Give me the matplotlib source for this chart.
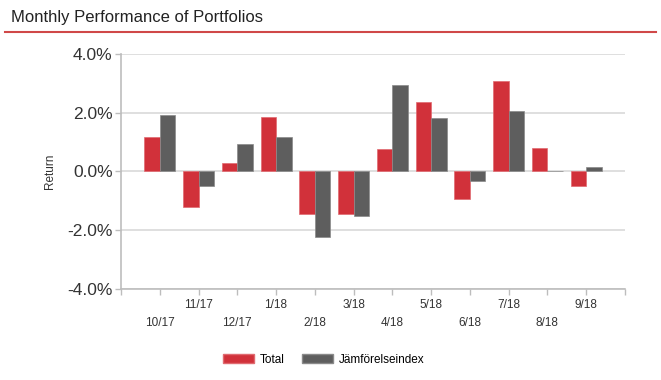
import numpy as np
import matplotlib
matplotlib.use("Agg")
import matplotlib.pyplot as plt
from matplotlib.lines import Line2D
from matplotlib.patches import Patch

plt.rcParams["font.family"] = ["Liberation Sans", "DejaVu Sans"]

# data (percent)
months = ["10/17", "11/17", "12/17", "1/18", "2/18", "3/18",
          "4/18", "5/18", "6/18", "7/18", "8/18", "9/18"]
total = [1.19, -1.20, 0.30, 1.85, -1.46, -1.46, 0.75, 2.37, -0.93, 3.09, 0.80, -0.49]
index = [1.94, -0.49, 0.93, 1.16, -2.24, -1.52, 2.96, 1.81, -0.34, 2.06, 0.01, 0.16]
yticks = [-4, -2, 0, 2, 4]

red = "#d1313a"
grey = "#5e5e5e"
axis_col = "#bdbdbd"

fig = plt.figure(figsize=(6.61, 3.8), dpi=100)
ax = fig.add_axes([0.183, 0.2395, 0.7625, 0.6184])

x = np.arange(len(months))
w = 0.4
ax.bar(x - w / 2, total, w, color=red, edgecolor="#e06a70", linewidth=0.5, zorder=3)
ax.bar(x + w / 2, index, w, color=grey, edgecolor="#8a8a8a", linewidth=0.5, zorder=3)

ax.set_xlim(-1, len(months))
ax.set_ylim(-4, 4)
ax.set_yticks(yticks)
ax.set_yticklabels([f"{v:.1f}%" for v in yticks], fontsize=12.5, color="#333333")
ax.yaxis.grid(True, color="#d9d9d9", linewidth=1.2, zorder=0)

ax.set_xticks(np.arange(-1, len(months) + 1))
ax.set_xticklabels([])
ax.tick_params(axis="x", length=4, color=axis_col, width=1)
ax.tick_params(axis="y", length=4, color=axis_col, width=1, pad=2)

for s in ["top", "right"]:
    ax.spines[s].set_visible(False)
for s in ["left", "bottom"]:
    ax.spines[s].set_color(axis_col)
    ax.spines[s].set_linewidth(1.2)

# alternating month labels
trans = ax.get_xaxis_transform()
for i, m in enumerate(months):
    yy = -0.145 if i % 2 == 0 else -0.068
    ax.text(i, yy, m, transform=trans, ha="center", va="center",
            fontsize=8.5, color="#333333")

ax.set_ylabel("Return", fontsize=8.5, color="#333333", labelpad=8)

# title and red rule
fig.text(0.017, 0.955, "Monthly Performance of Portfolios", fontsize=12,
         color="#222222", va="center", ha="left")
fig.add_artist(Line2D([0.008, 0.992], [0.916, 0.916], transform=fig.transFigure,
                      color="#d04848", linewidth=1.5))

handles = [Patch(facecolor=red, edgecolor="#e06a70", label="Total"),
           Patch(facecolor=grey, edgecolor="#8a8a8a", label="Jämförelseindex")]
fig.legend(handles=handles, loc="center", bbox_to_anchor=(0.49, 0.053), ncol=2,
           frameon=False, fontsize=8.5, handlelength=2.6, handleheight=0.8,
           columnspacing=1.5, handletextpad=0.5)

fig.savefig("out.png", dpi=100)
